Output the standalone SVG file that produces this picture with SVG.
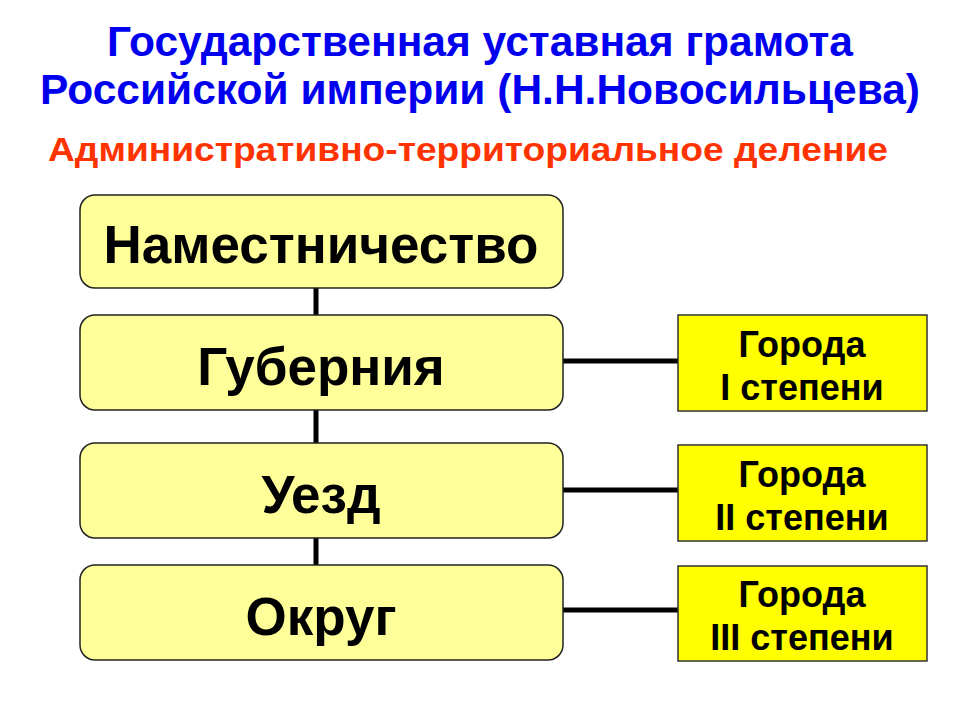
<svg xmlns="http://www.w3.org/2000/svg" width="960" height="720" viewBox="0 0 960 720">
<style>
.t{font-family:"Liberation Sans",Arial,sans-serif;font-weight:bold;text-anchor:middle}
.main{fill:#FFFF99;stroke:#222;stroke-width:1.5}
.city{fill:#FFFF00;stroke:#333;stroke-width:1.5}
.lbl{font-size:53px;fill:#000}
.cl{font-size:36px;fill:#000}
.ln{stroke:#000;stroke-width:5;fill:none}
</style>
<rect width="960" height="720" fill="#fff"/>
<text class="t" x="480" y="56" font-size="42" fill="#0000EE" textLength="746" lengthAdjust="spacingAndGlyphs">Государственная уставная грамота</text>
<text class="t" x="480" y="104" font-size="42" fill="#0000EE" textLength="880" lengthAdjust="spacingAndGlyphs">Российской империи (Н.Н.Новосильцева)</text>
<text class="t" x="468" y="161" font-size="33" fill="#FF3300" textLength="840" lengthAdjust="spacingAndGlyphs">Административно-территориальное деление</text>
<g id="connectors">
<path class="ln" d="M316 288V315M316 410V443M316 538V565M563 361H678M563 490H678M563 610H678"/>
</g>
<g id="n1"><rect class="main" x="80" y="195" width="483" height="93" rx="15"/><text class="t lbl" x="321" y="263">Наместничество</text></g>
<g id="n2"><rect class="main" x="80" y="315" width="483" height="95" rx="15"/><text class="t lbl" x="321" y="385">Губерния</text></g>
<g id="n3"><rect class="main" x="80" y="443" width="483" height="95" rx="15"/><text class="t lbl" x="321" y="513">Уезд</text></g>
<g id="n4"><rect class="main" x="80" y="565" width="483" height="95" rx="15"/><text class="t lbl" x="321" y="635">Округ</text></g>
<g id="c1"><rect class="city" x="678" y="315" width="249" height="96"/><text class="t cl" x="802" y="357">Города</text><text class="t cl" x="802" y="400">I степени</text></g>
<g id="c2"><rect class="city" x="678" y="445" width="249" height="96"/><text class="t cl" x="802" y="487">Города</text><text class="t cl" x="802" y="530">II степени</text></g>
<g id="c3"><rect class="city" x="678" y="566" width="249" height="95"/><text class="t cl" x="802" y="607">Города</text><text class="t cl" x="802" y="650">III степени</text></g>
</svg>
